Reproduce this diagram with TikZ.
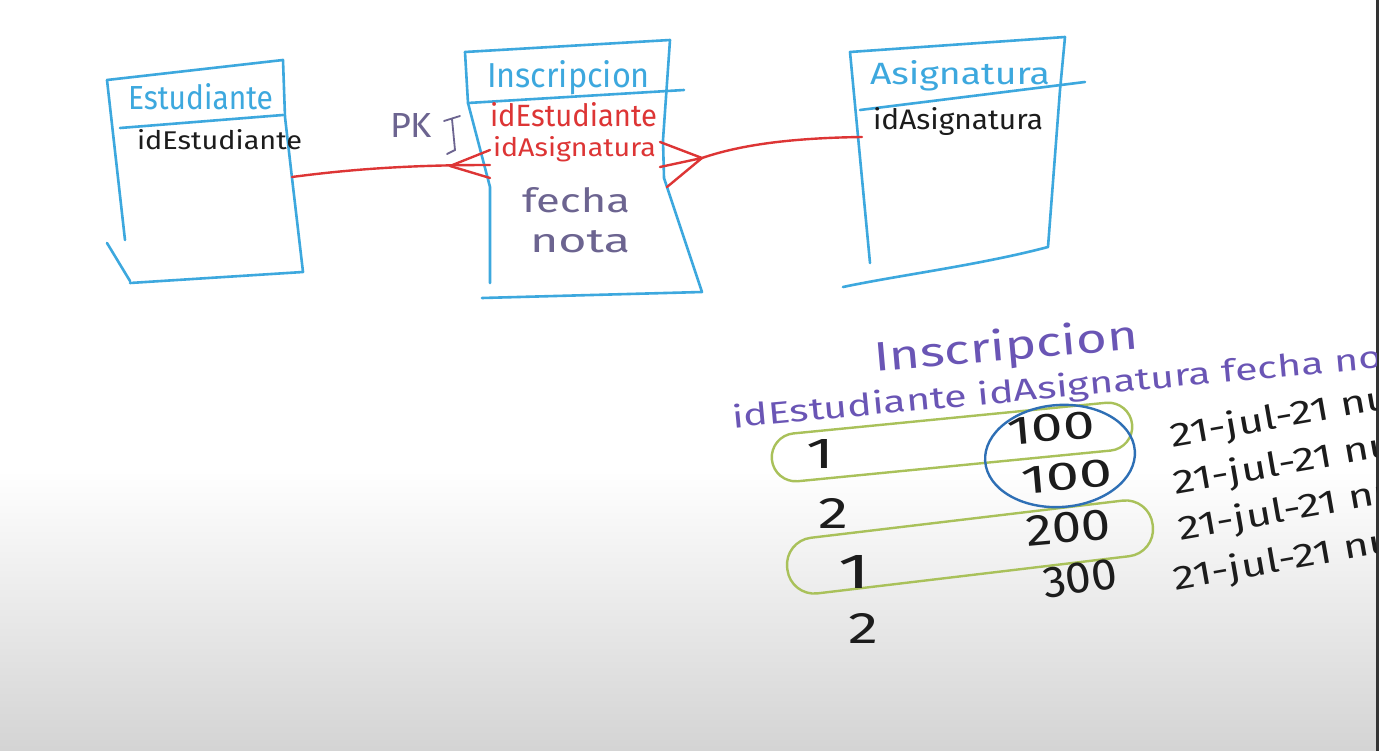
\documentclass[tikz,border=0pt]{standalone}
\usepackage{fontspec}
\setmainfont{Fira Sans}
\usetikzlibrary{shapes.geometric}
\definecolor{boxblue}{HTML}{3DA8DE}
\definecolor{hwred}{HTML}{DD3535}
\definecolor{hwpurple}{HTML}{6A55B5}
\definecolor{hwgray}{HTML}{6C6490}
\definecolor{hwgreen}{HTML}{A9C15A}
\definecolor{circblue}{HTML}{2E6FB5}
\definecolor{ink}{HTML}{1C1C1C}
\newcommand\hw[3]{\resizebox{#1pt}{#2pt}{#3}}
\tikzset{
  boxline/.style={draw=boxblue, line width=2.6pt, line cap=round, line join=round},
  rel/.style={draw=hwred, line width=2.4pt, line cap=round, line join=round},
  txt/.style={anchor=base west, inner sep=0pt, outer sep=0pt},
  loop/.style={draw=hwgreen, line width=2.4pt, rounded corners=24pt, rectangle},
}
\begin{document}
\begin{tikzpicture}[x=1pt,y=-1pt]
\useasboundingbox (0,0) rectangle (1379,751);
\fill[white] (0,0) rectangle (1379,751);
\shade[top color=white, bottom color=black!17] (0,470) rectangle (1379,751);
\fill[black!80] (1376,0) rectangle (1379,751);

\begin{scope}
\clip (0,0) rectangle (1376,751);
% ---------- Estudiante ----------
\draw[boxline] (107,80) -- (283,60) -- (285,117) -- (292,178) -- (303,272) -- (130,283);
\draw[boxline] (107,80) -- (125,240);
\draw[boxline] (107,243) -- (130,281);
\draw[boxline] (120,128) -- (283,115);
\node[txt, text=boxblue] (estH) at (128,110) {\hw{145}{26}{Estudiante}};
\node[txt, text=ink] (estA) at (137,150) {\hw{165}{20}{idEstudiante}};

% ---------- Inscripcion ----------
\draw[boxline] (465,52) -- (670,40) -- (663,140) -- (664,178) -- (702,292) -- (482,298);
\draw[boxline] (465,52) -- (468,103) -- (490,187) -- (490,283);
\draw[boxline] (468,103) -- (684,90);
\node[txt, text=boxblue] (insH) at (487,88) {\hw{163}{27}{Inscripcion}};
\node[txt, text=hwred] (insA) at (490,127) {\hw{167}{24}{idEstudiante}};
\node[txt, text=hwred] (insB) at (493,157) {\hw{163}{20}{idAsignatura}};
\node[txt, text=hwgray] (insC) at (522,213) {\hw{108}{25}{fecha}};
\node[txt, text=hwgray] (insD) at (530,253) {\hw{100}{22}{nota}};
\node[txt, text=hwgray] (pk) at (390,138) {\hw{42}{24}{PK}};
\draw[hwgray, line width=1.8pt, line cap=round] (444,121) -- (460,116) (452,119) -- (455,150) -- (447,154);

% ---------- Asignatura ----------
\draw[boxline] (870,263) -- (850,52) -- (1065,37) -- (1060,90) -- (1048,247)
  .. controls (980,265) and (900,275) .. (843,287);
\draw[boxline] (860,110) -- (1085,82);
\node[txt, text=boxblue] (asiH) at (870,85) {\hw{180}{24}{Asignatura}};
\node[txt, text=ink] (asiA) at (873,130) {\hw{170}{22}{idAsignatura}};

% ---------- connectors ----------
\coordinate (estR) at (292,177);
\coordinate (cfL) at (450,166);
\coordinate (insL1) at (490,150);
\coordinate (insL2) at (490,165);
\coordinate (insL3) at (490,178);
\draw[rel] (estR) .. controls (360,168) and (420,165) .. (insL2);
\draw[rel] (insL1) -- (cfL) -- (insL3);

\coordinate (asiL) at (862,137);
\coordinate (cfR) at (702,158);
\coordinate (insR1) at (660,142);
\coordinate (insR2) at (660,167);
\coordinate (insR3) at (667,187);
\draw[rel] (asiL) .. controls (790,138) and (740,145) .. (cfR);
\draw[rel] (insR1) -- (cfR) -- (insR2) (cfR) -- (insR3);

% ---------- lower table ----------
\node[txt, text=hwpurple, rotate=5] (tabT) at (875,372) {\hw{265}{32}{Inscripcion}};
\node[txt, text=hwpurple, rotate=5.3] (tabH) at (733,428) {\hw{690}{24}{idEstudiante idAsignatura fecha nota}};

\node[loop, minimum width=362pt, minimum height=48pt, rotate=5.6] (loop1) at (952,442) {};
\node[loop, minimum width=368pt, minimum height=56pt, rotate=6.8, rounded corners=27pt] (loop2) at (970,547) {};
\node[draw=circblue, line width=2.4pt, ellipse, minimum width=150pt, minimum height=102pt, rotate=4] (circ) at (1060,456) {};

\node[txt, text=ink] (r1a) at (806,468) {\hw{28}{29}{1}};
\node[txt, text=ink] (r2a) at (818,528) {\hw{30}{30}{2}};
\node[txt, text=ink] (r3a) at (838,588) {\hw{32}{33}{1}};
\node[txt, text=ink] (r4a) at (848,643) {\hw{30}{30}{2}};

\node[txt, text=ink, rotate=5] (r1b) at (1008,445) {\hw{88}{27}{100}};
\node[txt, text=ink, rotate=5] (r2b) at (1022,494) {\hw{92}{27}{100}};
\node[txt, text=ink, rotate=5] (r3b) at (1027,546) {\hw{85}{30}{200}};
\node[txt, text=ink, rotate=8] (r4b) at (1045,598) {\hw{75}{30}{300}};

\node[txt, text=ink, rotate=10] (r1c) at (1172,447) {\hw{250}{26}{21-jul-21 null}};
\node[txt, text=ink, rotate=10] (r2c) at (1175,494) {\hw{250}{26}{21-jul-21 null}};
\node[txt, text=ink, rotate=10] (r3c) at (1180,540) {\hw{250}{26}{21-jul-21 null}};
\node[txt, text=ink, rotate=10] (r4c) at (1175,590) {\hw{250}{26}{21-jul-21 null}};
\end{scope}
\end{tikzpicture}
\end{document}
